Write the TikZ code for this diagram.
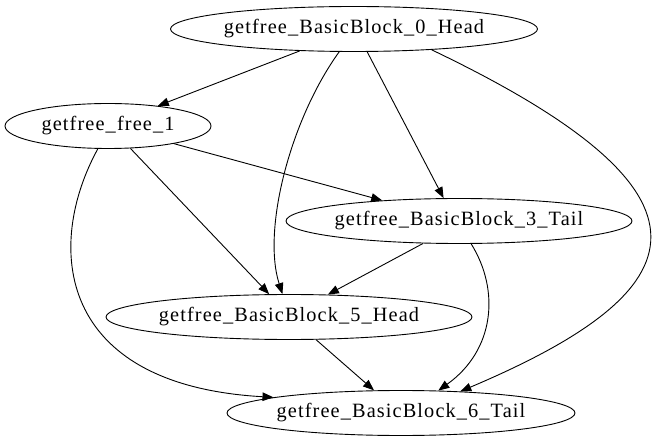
\documentclass[tikz,border=0pt]{standalone}
\usepackage{fontspec}
\setmainfont{Liberation Serif}
\newfontfamily\labelfont[LetterSpace=5.5]{Liberation Serif}
\usetikzlibrary{shapes.geometric,arrows.meta}
\begin{document}
\begin{tikzpicture}[x=1pt,y=-1pt,
  vertex/.style={draw,ellipse,line width=0.9pt,inner xsep=-8pt,inner ysep=0pt,
    minimum height=45,font=\labelfont\fontsize{20.3}{23}\selectfont},
  edge/.style={line width=0.9pt,-{Triangle[length=11pt,width=8.5pt]}}]
\useasboundingbox (0,0) rectangle (661,443);
\node[vertex,minimum width=367] (h0) at (354,29) {getfree\_BasicBlock\_0\_Head};
\node[vertex,minimum width=206] (f1) at (108,126) {getfree\_free\_1};
\node[vertex,minimum width=346] (t3) at (459,221) {getfree\_BasicBlock\_3\_Tail};
\node[vertex,minimum width=366] (h5) at (289,317) {getfree\_BasicBlock\_5\_Head};
\node[vertex,minimum width=348] (t6) at (401,413) {getfree\_BasicBlock\_6\_Tail};
% straight edges
\draw[edge] (h0.202) -- (f1.22);
\draw[edge] (h0.-60.5) -- (t3.124);
\draw[edge] (f1.-15.5) -- (t3.165.4);
\draw[edge] (f1.-45) -- (h5.131);
\draw[edge] (t3.-148.6) -- (h5.30.3);
\draw[edge] (h5.-40.6) -- (t6.140);
% curved edges
\draw[edge] (h0.-123) .. controls (290,120) and (262,230) .. (h5.106);
\draw[edge] (h0.-15) .. controls (735,195) and (700,290) .. (t6.20);
\draw[edge] (f1.-114.6) .. controls (45,245) and (55,385) .. (t6.173.8);
\draw[edge] (t3.-62.5) .. controls (500,290) and (495,350) .. (t6.31);
\end{tikzpicture}
\end{document}
